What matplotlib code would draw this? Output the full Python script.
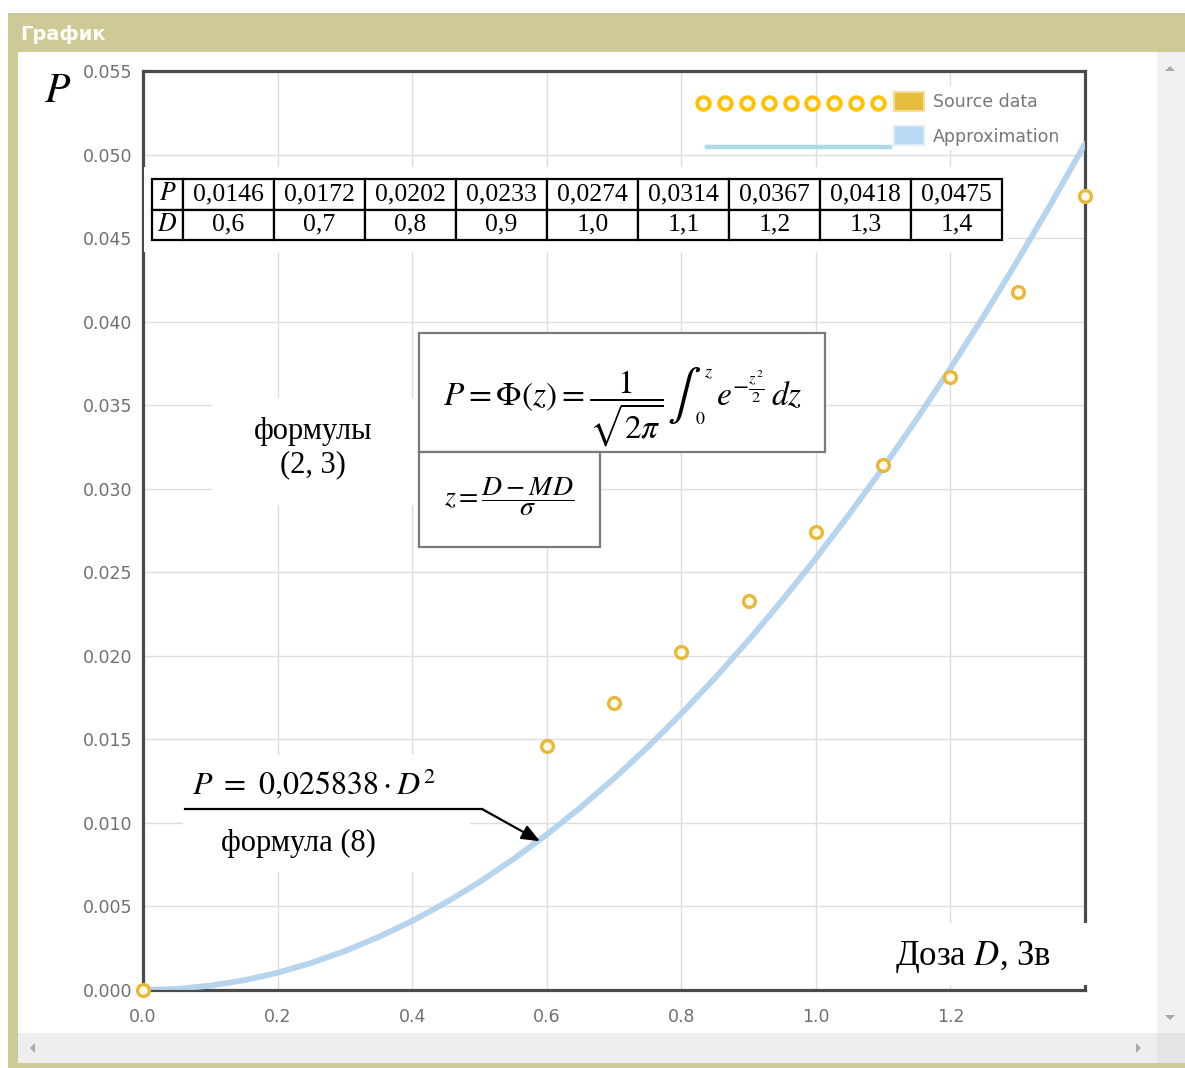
import numpy as np
import matplotlib
matplotlib.use("Agg")
import matplotlib.pyplot as plt
from matplotlib.patches import Rectangle, Patch, Polygon
from matplotlib.lines import Line2D

plt.rcParams['mathtext.fontset'] = 'stix'

dose = [0.0, 0.6, 0.7, 0.8, 0.9, 1.0, 1.1, 1.2, 1.3, 1.4]
prob = [0.0, 0.0146, 0.0172, 0.0202, 0.0233, 0.0274, 0.0314, 0.0367, 0.0418, 0.0475]

# approximation curve, read at 0.05 steps
approx_d = [0.0, 0.05, 0.1, 0.15, 0.2, 0.25, 0.3, 0.35, 0.4, 0.45, 0.5, 0.55, 0.6, 0.65,
            0.7, 0.75, 0.8, 0.85, 0.9, 0.95, 1.0, 1.05, 1.1, 1.15, 1.2, 1.25, 1.3, 1.35, 1.4]
approx_p = [0.0, 0.00006, 0.00026, 0.00058, 0.00103, 0.00162, 0.00233, 0.00317, 0.00413,
            0.00523, 0.00646, 0.00782, 0.0093, 0.01092, 0.01266, 0.01453, 0.01654, 0.01867,
            0.02093, 0.02332, 0.02584, 0.02849, 0.03126, 0.03417, 0.03721, 0.04037, 0.04367,
            0.04709, 0.05064]

x_ticks = [0.0, 0.2, 0.4, 0.6, 0.8, 1.0, 1.2]
y_ticks = [0.000, 0.005, 0.010, 0.015, 0.020, 0.025, 0.030, 0.035, 0.040, 0.045, 0.050, 0.055]

W, H = 1185, 1068
fig = plt.figure(figsize=(W / 100, H / 100), dpi=100)
fig.patch.set_facecolor('white')


def fx(px):
    return px / W


def fy(py):
    return 1 - py / H


def frect(x0, y0, x1, y1, **kw):
    # rectangle in pixel coords (y from top), drawn on the figure
    r = Rectangle((fx(x0), fy(y1)), fx(x1) - fx(x0), fy(y0) - fy(y1),
                  transform=fig.transFigure, **kw)
    fig.patches.append(r)
    return r


# window frame
khaki = '#CECA97'
frect(8, 13, 1185, 52, facecolor=khaki, edgecolor='none')
frect(8, 13, 18, 1068, facecolor=khaki, edgecolor='none')
frect(8, 1063, 1185, 1068, facecolor=khaki, edgecolor='none')
frect(1157, 52, 1185, 1033, facecolor='#F1F1F1', edgecolor='none')
frect(18, 1033, 1157, 1063, facecolor='#EEEEEE', edgecolor='none')
frect(1157, 1033, 1185, 1063, facecolor='#E4E4E4', edgecolor='none')
fig.text(fx(20), fy(34), 'График', color='#FCFCF6', fontsize=14, fontweight='bold',
         va='center', ha='left')


def tri(pts):
    fig.patches.append(Polygon([(fx(a), fy(b)) for a, b in pts], closed=True,
                               transform=fig.transFigure, facecolor='#A8A8A8',
                               edgecolor='none'))


tri([(1165, 71), (1175, 71), (1170, 66)])
tri([(1165, 1015), (1175, 1015), (1170, 1020)])
tri([(35, 1043), (35, 1053), (30, 1048)])
tri([(1136, 1043), (1136, 1053), (1141, 1048)])

# axes
ax = fig.add_axes([fx(143), fy(990), fx(1085) - fx(143), fy(71) - fy(990)])
ax.set_xlim(0, 1.4)
ax.set_ylim(0, 0.055)
ax.set_xticks(x_ticks)
ax.set_yticks(y_ticks)
ax.set_xticklabels(['%.1f' % v for v in x_ticks])
ax.set_yticklabels(['%.3f' % v for v in y_ticks])
ax.tick_params(length=0, labelsize=12.5, labelcolor='#707070')
ax.tick_params(axis='x', pad=13)
ax.tick_params(axis='y', pad=8)
ax.set_axisbelow(True)
ax.grid(True, color='#DDDDDD', linewidth=1)
for s in ax.spines.values():
    s.set_color('#4A4A4A')
    s.set_linewidth(2.3)

ax.plot(approx_d, approx_p, color='#B2D2EC', linewidth=4.2, alpha=0.95,
        solid_capstyle='round', solid_joinstyle='round', zorder=3)
ax.plot(dose, prob, linestyle='none', marker='o', markersize=8.5,
        markerfacecolor='#FFFBEA', markeredgecolor='#E8B838', markeredgewidth=2.4,
        zorder=6, clip_on=False)


def arect(x0, y0, x1, y1, z=2.6, **kw):
    # rectangle in pixel coords drawn on the axes layer
    r = Rectangle((fx(x0), fy(y1)), fx(x1) - fx(x0), fy(y0) - fy(y1),
                  transform=fig.transFigure, clip_on=False, zorder=z, **kw)
    ax.add_patch(r)
    return r


# white patches pasted over the grid
arect(143.5, 167, 1008, 252, facecolor='white', edgecolor='none')
arect(212, 398, 418, 505, facecolor='white', edgecolor='none')
arect(183, 755, 470, 872, facecolor='white', edgecolor='none')
arect(869, 923, 1092, 985, facecolor='white', edgecolor='none')
arect(890, 86, 1076, 150, facecolor='white', edgecolor='none')

# legend
leg = ax.legend(handles=[Patch(facecolor='#E6BE3C', edgecolor='#F3DE9C', linewidth=1.5),
                         Patch(facecolor='#B7D9F5', edgecolor='#DCECFA', linewidth=1.5)],
                labels=['Source data', 'Approximation'],
                loc='upper left', bbox_to_anchor=(fx(885), fy(83)),
                bbox_transform=fig.transFigure, frameon=False, fontsize=12.5,
                handlelength=1.75, handleheight=1.35, handletextpad=0.5,
                labelspacing=0.85, borderpad=0)
for t in leg.get_texts():
    t.set_color('#777777')
leg.set_zorder(7)

# stray legend marks
for cx in np.linspace(703, 878, 9):
    fig.add_artist(Line2D([fx(cx)], [fy(103)], marker='o', markersize=9,
                          markerfacecolor='white', markeredgecolor='#FFC000',
                          markeredgewidth=2.8, transform=fig.transFigure))
fig.add_artist(Line2D([fx(707), fx(890)], [fy(147), fy(147)], color='#ADD8E6',
                      linewidth=3.2, transform=fig.transFigure))

# data table
row_p = ['$P$'] + [('%.4f' % v).replace('.', ',') for v in prob[1:]]
row_d = ['$D$'] + [('%.1f' % v).replace('.', ',') for v in dose[1:]]
x0t, x1t, y0t, y1t = 152, 1002, 179, 240
tb = ax.table(cellText=[row_p, row_d],
              colWidths=[31] + [91] * 9,
              cellLoc='center',
              bbox=[(x0t - 143) / 942, (990 - y1t) / 919, (x1t - x0t) / 942, (y1t - y0t) / 919],
              zorder=8)
tb.auto_set_font_size(False)
for (r, c), cell in tb.get_celld().items():
    cell.set_linewidth(1.6)
    cell.set_edgecolor('black')
    cell.set_facecolor('white')
    cell.get_text().set_fontsize(18.5)
    cell.get_text().set_family('Liberation Serif')

# formula boxes
arect(419, 333, 825, 452, z=8, facecolor='white', edgecolor='#7A7A7A', linewidth=1.6)
arect(419, 452, 600, 547, z=8, facecolor='white', edgecolor='#7A7A7A', linewidth=1.6)
fig.text(fx(664), fy(406), r'$P=\Phi\left(z\right)=\dfrac{1}{\sqrt{2\pi}}$',
         fontsize=24, ha='right', va='baseline', zorder=9)
fig.text(fx(684), fy(396), r'$\int$', fontsize=36, ha='center', va='center', zorder=9)
fig.text(fx(708), fy(372), r'$z$', fontsize=13, ha='center', va='center', zorder=9)
fig.text(fx(700), fy(419), r'$0$', fontsize=13, ha='center', va='center', zorder=9)
fig.text(fx(716), fy(406), r'$e^{-\frac{z^2}{2}}\,dz$', fontsize=24,
         ha='left', va='baseline', zorder=9)
fig.text(fx(509), fy(497), r'$z=\dfrac{D-MD}{\sigma}$', fontsize=20,
         ha='center', va='center', zorder=9)

fig.text(fx(313), fy(448), 'формулы\n(2, 3)', family='Liberation Serif', fontsize=22,
         ha='center', va='center', linespacing=1.2, zorder=9)

# approximation annotation
fig.text(fx(314), fy(784), r'$P\ =\ 0{,}025838\cdot D^{2}$', fontsize=23,
         ha='center', va='center', zorder=9)
fig.add_artist(Line2D([fx(185), fx(482)], [fy(809), fy(809)], color='black',
                      linewidth=1.6, transform=fig.transFigure))
fig.text(fx(298), fy(843), 'формула (8)', family='Liberation Serif', fontsize=22,
         ha='center', va='center', zorder=9)
ax.annotate('', xy=(0.59, 0.0089), xycoords='data',
            xytext=(fx(482), fy(809)), textcoords='figure fraction',
            arrowprops=dict(arrowstyle='-|>,head_length=1.1,head_width=0.45',
                            color='black', lw=1.6, shrinkA=0, shrinkB=0),
            zorder=9, annotation_clip=False)

# axis labels
fig.text(fx(58), fy(90), '$P$', fontsize=30, ha='center', va='center')
fig.text(fx(973), fy(957), 'Доза $D$, Зв', family='Liberation Serif', fontsize=25,
         ha='center', va='center', zorder=9)

fig.savefig('out.png', dpi=100)
